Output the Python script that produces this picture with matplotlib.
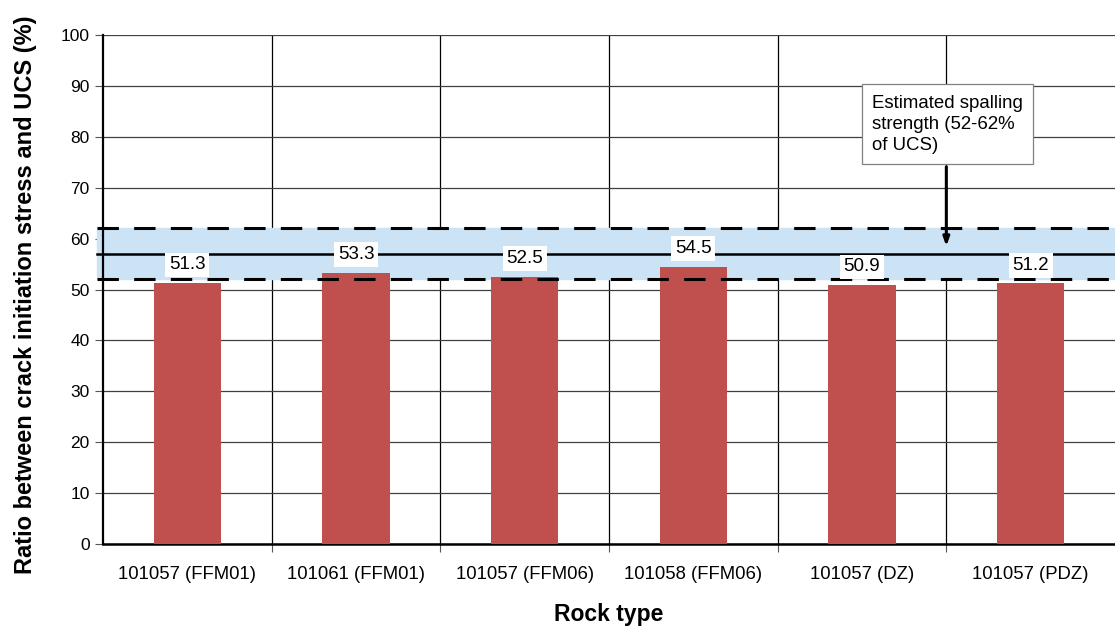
import numpy as np
import matplotlib.pyplot as plt
from matplotlib.ticker import FixedLocator

categories = ['101057 (FFM01)', '101061 (FFM01)', '101057 (FFM06)',
              '101058 (FFM06)', '101057 (DZ)', '101057 (PDZ)']
ratios = [51.3, 53.3, 52.5, 54.5, 50.9, 51.2]
band_low, band_mid, band_high = 52, 57, 62

plt.rcParams['font.family'] = ['Liberation Sans', 'DejaVu Sans']

fig = plt.figure(figsize=(11.15, 6.26), dpi=100)
ax = fig.add_axes([103 / 1115, 1 - 544 / 626, 1012 / 1115, 509 / 626])

x = np.arange(len(categories))
ax.set_xlim(-0.5, len(categories) - 0.5)
ax.set_ylim(0, 100)

# spalling strength band
ax.axhspan(band_low, band_high, xmin=-0.006, xmax=1, color='#cce3f6', zorder=1, clip_on=False)
ax.plot([-0.535, len(categories) - 0.5], [band_mid, band_mid], color='black', lw=1.8, zorder=4, clip_on=False)
for yv in (band_low, band_high):
    ax.plot([-0.535, len(categories) - 0.5], [yv, yv], color='black', lw=2.2,
            dashes=(7, 5), zorder=4, clip_on=False)

bars = ax.bar(x, ratios, width=0.4, color='#c0504d', zorder=3)
for xi, v in zip(x, ratios):
    ax.annotate(f'{v}', (xi, v), xytext=(0, 13), textcoords='offset points',
                ha='center', va='center', fontsize=13.5, zorder=6,
                bbox=dict(boxstyle='square,pad=0.2', fc='white', ec='none'))

# grid
ax.set_yticks(np.arange(0, 101, 10))
ax.yaxis.grid(True, color='#404040', lw=0.9, zorder=0)
ax.xaxis.set_major_locator(FixedLocator(x[:-1] + 0.5))
ax.xaxis.grid(True, color='black', lw=0.9, zorder=0)
ax.set_xticklabels([])
ax.xaxis.set_minor_locator(FixedLocator(x))
ax.set_xticklabels(categories, minor=True, fontsize=13.3)
ax.tick_params(axis='x', which='minor', length=0, pad=16)
ax.tick_params(axis='x', which='major', length=6, color='#555555')
ax.tick_params(axis='y', length=6, labelsize=12.5, color='#555555')

for s in ('top', 'right'):
    ax.spines[s].set_visible(False)
ax.spines['left'].set_linewidth(1.6)
ax.spines['bottom'].set_linewidth(1.8)
ax.set_axisbelow(True)

ax.set_xlabel('Rock type', fontsize=16.5, fontweight='bold', labelpad=14)
ax.set_ylabel('Ratio between crack initiation stress and UCS (%)', fontsize=17,
              fontweight='bold')
ax.yaxis.set_label_coords(-0.065, 0.49)

# annotation box + arrow
ax.text(4.06, 88.3, 'Estimated spalling\nstrength (52-62%\nof UCS)', fontsize=13.4,
        ha='left', va='top', linespacing=1.32, zorder=7,
        bbox=dict(boxstyle='square,pad=0.55', fc='white', ec='#808080', lw=0.9))
ax.annotate('', xy=(4.5, 58.5), xytext=(4.5, 74.1), zorder=6,
            arrowprops=dict(arrowstyle='-|>,head_length=0.5,head_width=0.18', color='black', lw=2.2,
                            shrinkA=0, shrinkB=0))

fig.savefig('out.png', dpi=100)
